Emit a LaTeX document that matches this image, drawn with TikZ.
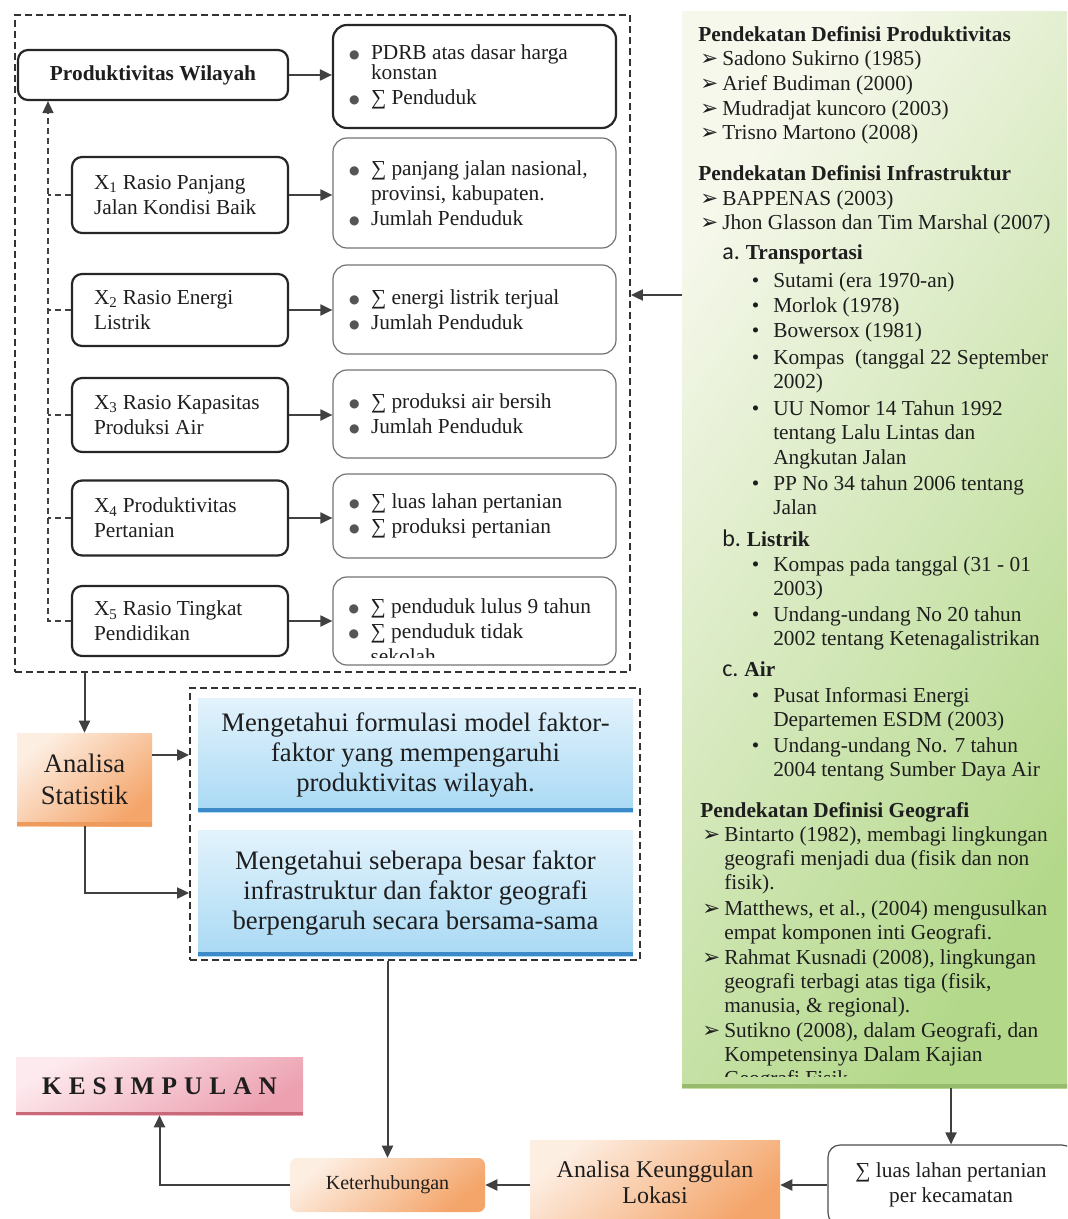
\documentclass[tikz,border=0pt]{standalone}
\usepackage{fontspec}
\setmainfont{Liberation Serif}
\newfontfamily\dvs{DejaVu Sans}
\newfontfamily\clb{Carlito}
\usetikzlibrary{arrows.meta,calc}

\newlength\upx \setlength\upx{0.75pt}

\definecolor{ink}{HTML}{1E1E1E}
\definecolor{lnc}{HTML}{404040}
\definecolor{dotc}{HTML}{555555}
\definecolor{blT}{HTML}{E3F3FC}
\definecolor{blB}{HTML}{A9D9F4}
\definecolor{blS}{HTML}{3C8BC8}
\definecolor{orA}{HTML}{FDEEE2}
\definecolor{orB}{HTML}{F4A56A}
\definecolor{orS}{HTML}{EE9A5C}
\definecolor{pkA}{HTML}{FDEAEE}
\definecolor{pkB}{HTML}{ECA0B0}
\definecolor{pkS}{HTML}{C86A7A}
\definecolor{gnA}{HTML}{F6F8EC}
\definecolor{gnB}{HTML}{B3D88A}
\definecolor{gnS}{HTML}{98BA6C}

% font sizes
\newcommand\fsA{\fontsize{16}{18.75}\selectfont}
\newcommand\fsBig{\fontsize{20}{22.5}\selectfont}
\newcommand\fsAS{\fontsize{20}{24}\selectfont}
\newcommand\fsKet{\fontsize{15}{18}\selectfont}
\newcommand\fsAkl{\fontsize{18}{19.5}\selectfont}

% list markers
\newcommand\bdot{\makebox[22\upx][l]{\raisebox{1\upx}{\color{dotc}\dvs\fontsize{9}{9}\selectfont ●}}}
\newcommand\garr{\llap{{\dvs\fontsize{16}{16}\selectfont ➢}\hspace{4\upx}}}
\newcommand\gdot{\llap{•\hspace{14\upx}}}
\newcommand\glet[1]{{\clb\fontsize{18}{18}\selectfont #1}\hspace{6\upx}}
\newcommand\ks{\hspace{7\upx}}

\tikzset{
  base/.style={inner sep=0pt, text=ink},
  xbox/.style={base, draw=black!85, line width=1.65pt, rounded corners=7.5pt,
    minimum width=216\upx, text width=172\upx, inner xsep=22\upx, align=flush left, font=\fsA},
  rbox/.style={base, draw=black!55, line width=0.9pt, rounded corners=10.5pt,
    minimum width=283\upx, text width=251\upx, inner xsep=16\upx, align=flush left, font=\fsA},
  grpbox/.style={draw=black!80, line width=1.35pt, dash pattern=on 5.25pt off 3pt, inner sep=0pt},
  lnk/.style={draw=lnc, line width=1.5pt},
  arr/.style={lnk, -{Triangle[length=9pt,width=8.25pt]}},
  fbk/.style={draw=black!75, line width=1.1pt, dash pattern=on 4.5pt off 3pt},
  bluebox/.style={base, minimum width=435\upx, top color=blT, bottom color=blB,
    text width=420\upx, align=flush center, font=\fsBig},
  obox/.style={base, top color=orA, bottom color=orB, shading angle=40},
  gtext/.style={base, anchor=base west, font=\fsA},
}

\begin{document}
\begin{tikzpicture}[x=0.75pt,y=-0.75pt]
\useasboundingbox (0,0) rectangle (1067,1219);
\clip (0,0) rectangle (1067,1219);

% ---------- literature panel ----------
\node[base, minimum width=388\upx, minimum height=1076\upx,
      top color=gnA, bottom color=gnB, shading angle=55] (green) at (876,550) {};
\fill[gnS] (green.south west) rectangle ([yshift=3pt]green.south east);

\foreach \yy/\xx/\tx [count=\i] in {
  42/698/{\textbf{Pendekatan Definisi Produktivitas}},
  66/722/{\garr Sadono Sukirno (1985)},
  91/722/{\garr Arief Budiman (2000)},
  116/722/{\garr Mudradjat kuncoro (2003)},
  140/722/{\garr Trisno Martono (2008)},
  181/698/{\textbf{Pendekatan Definisi Infrastruktur}},
  206/722/{\garr BAPPENAS (2003)},
  230/722/{\garr Jhon Glasson dan Tim Marshal (2007)},
  260/722/{\glet{a.}\textbf{Transportasi}},
  287/773/{\gdot Sutami (era 1970-an)},
  312/773/{\gdot Morlok (1978)},
  337/773/{\gdot Bowersox (1981)},
  364/773/{\gdot Kompas\ \ (tanggal 22 September},
  388/773/{2002)},
  415/773/{\gdot UU Nomor 14 Tahun 1992},
  439/773/{tentang Lalu Lintas dan},
  464/773/{Angkutan Jalan},
  490/773/{\gdot PP No 34 tahun 2006 tentang},
  514/773/{Jalan},
  546/722/{\glet{b.}\textbf{Listrik}},
  571/773/{\gdot Kompas pada tanggal (31 - 01},
  595/773/{2003)},
  621/773/{\gdot Undang-undang No 20 tahun},
  645/773/{2002 tentang Ketenagalistrikan},
  676/722/{\glet{c.}\textbf{Air}},
  702/773/{\gdot Pusat Informasi Energi},
  726/773/{Departemen ESDM (2003)},
  752/773/{\gdot Undang-undang No. 7 tahun},
  776/773/{2004 tentang Sumber Daya Air},
  817/700/{\textbf{Pendekatan Definisi Geografi}},
  841/724/{\garr Bintarto (1982), membagi lingkungan},
  865/724/{geografi menjadi dua (fisik dan non},
  889/724/{fisik).},
  915/724/{\garr Matthews, et al., (2004) mengusulkan},
  939/724/{empat komponen inti Geografi.},
  964/724/{\garr Rahmat Kusnadi (2008), lingkungan},
  988/724/{geografi terbagi atas tiga (fisik,},
  1012/724/{manusia, \& regional).},
  1037/724/{\garr Sutikno (2008), dalam Geografi, dan},
  1061/724/{Kompetensinya Dalam Kajian}
} \node[gtext] (g\i) at (\xx,\yy) {\tx};
\begin{scope}
  \clip (682,1070) rectangle (1067,1076);
  \node[gtext] (glast) at (724,1085) {Geografi Fisik};
\end{scope}

% ---------- variables group ----------
\node[grpbox, minimum width=615\upx, minimum height=657\upx] (grp1) at (322.5,343.5) {};

\node[xbox, minimum height=50\upx, align=flush center, text width=226\upx] (PW) at (153,75) {\textbf{Produktivitas Wilayah}};
\node[xbox, minimum height=76\upx] (X1) at (180,195) {X\textsubscript{1} Rasio Panjang\\Jalan Kondisi Baik};
\node[xbox, minimum height=72\upx] (X2) at (180,310) {X\textsubscript{2} Rasio Energi\\Listrik};
\node[xbox, minimum height=74\upx] (X3) at (180,415) {X\textsubscript{3} Rasio Kapasitas\\Produksi Air};
\node[xbox, minimum height=75\upx] (X4) at (180,518) {X\textsubscript{4} Produktivitas\\Pertanian};
\node[xbox, minimum height=70\upx] (X5) at (180,621) {X\textsubscript{5} Rasio Tingkat\\Pendidikan};

\node[rbox, draw=black!85, line width=1.65pt, minimum height=103\upx] (R0) at (474.5,76.5)
  {\bdot PDRB atas dasar harga\\[-5\upx]\hspace*{22\upx}konstan\\\bdot ∑ Penduduk};
\node[rbox, minimum height=110\upx] (R1) at (474.5,193)
  {\bdot ∑ panjang jalan nasional,\\\hspace*{22\upx}provinsi, kabupaten.\\\bdot Jumlah Penduduk};
\node[rbox, minimum height=89\upx] (R2) at (474.5,309.5)
  {\bdot ∑ energi listrik terjual\\\bdot Jumlah Penduduk};
\node[rbox, minimum height=88\upx] (R3) at (474.5,414)
  {\bdot ∑ produksi air bersih\\\bdot Jumlah Penduduk};
\node[rbox, minimum height=84\upx] (R4) at (474.5,516)
  {\bdot ∑ luas lahan pertanian\\\bdot ∑ produksi pertanian};
\node[rbox, minimum height=88\upx] (R5) at (474.5,621) {};
\begin{scope}
  \clip (R5.north west) rectangle ([yshift=6pt]R5.south east);
  \node[base, font=\fsA, align=flush left, anchor=north west] (R5t) at ([xshift=12pt,yshift=-16.5pt]R5.north west)
    {\bdot ∑ penduduk lulus 9 tahun\\\bdot ∑ penduduk tidak\\\hspace*{22\upx}sekolah};
\end{scope}

\draw[arr] (PW.east) -- (PW.east -| R0.west);
\foreach \n in {1,...,5} \draw[arr] (X\n.east) -- (X\n.east -| R\n.west);

% feedback line to regional productivity
\coordinate (fb) at (48,0);
\foreach \n in {1,...,4} \draw[fbk] (X\n.west) -- (X\n.west -| fb);
\draw[fbk, -{Triangle[length=9pt,width=8.25pt]}] (X5.west) -| (PW.south -| fb);

% literature feeds the variables
\coordinate (gin) at (682,295);
\draw[arr] (gin) -- (gin -| grp1.east);

% ---------- analysis ----------
\node[obox, minimum width=135\upx, minimum height=93\upx, font=\fsAS, align=flush center] (AS) at (84.5,779.5) {Analisa\\Statistik};
\fill[orS] (AS.south west) rectangle ([yshift=3pt]AS.south east);

\node[grpbox, minimum width=450\upx, minimum height=272\upx] (grp2) at (415,824) {};
\node[bluebox, minimum height=114\upx] (B1) at (415.5,755)
  {Mengetahui formulasi model faktor-\\faktor yang mempengaruhi\\produktivitas wilayah.};
\fill[blS] (B1.south west) rectangle ([yshift=3pt]B1.south east);
\node[bluebox, minimum height=126\upx] (B2) at (415.5,893)
  {Mengetahui seberapa besar faktor\\infrastruktur dan faktor geografi\\berpengaruh secara bersama-sama};
\fill[blS] (B2.south west) rectangle ([yshift=3pt]B2.south east);

\draw[arr] (AS.north |- grp1.south) -- (AS.north);
\draw[arr] (AS.east |- B1.west) -- (grp2.west |- B1.west);
\draw[arr] (AS.south) |- (grp2.west |- B2.west);

% ---------- conclusion row ----------
\node[base, minimum width=287\upx, minimum height=58\upx,
      top color=pkA, bottom color=pkB, shading angle=30,
      font=\fontsize{19}{22}\selectfont\bfseries] (KES) at (159.5,1086)
  {K\ks E\ks S\ks I\ks M\ks P\ks U\ks L\ks A\ks N};
\fill[pkS] (KES.south west) rectangle ([yshift=2.25pt]KES.south east);

\node[obox, rounded corners=5pt, minimum width=195\upx, minimum height=54\upx, font=\fsKet] (KET) at (387.5,1185) {Keterhubungan};
\node[obox, minimum width=250\upx, minimum height=84\upx, font=\fsAkl, align=flush center] (AKL) at (655,1182) {Analisa Keunggulan\\Lokasi};
\node[base, draw=black!70, line width=0.9pt, rounded corners=9pt, fill=white,
      minimum width=246\upx, minimum height=80\upx, font=\fsA, align=flush center] (LL) at (951,1185)
  {∑ luas lahan pertanian\\per kecamatan};

\draw[arr] (KET.north |- grp2.south) -- (KET.north);
\draw[arr] (KET.west) -| (KES.south);
\draw[arr] (AKL.west |- KET.east) -- (KET.east);
\draw[arr] (LL.west) -- (LL.west -| AKL.east);
\draw[arr] (green.south -| LL.north) -- (LL.north);
\end{tikzpicture}
\end{document}
